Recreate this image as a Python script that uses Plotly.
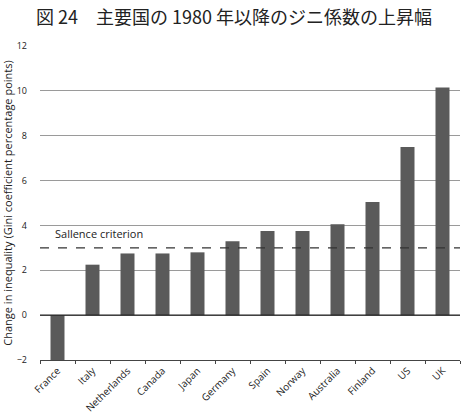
import plotly.graph_objects as go

countries = ["France", "Italy", "Netherlands", "Canada", "Japan", "Germany",
             "Spain", "Norway", "Australia", "Finland", "US", "UK"]
gini_change = [-2.0, 2.25, 2.75, 2.75, 2.8, 3.3, 3.75, 3.75, 4.05, 5.05, 7.5, 10.15]
salience = 3.0
y_ticks = [-2, 0, 2, 4, 6, 8, 10, 12]

fig = go.Figure()
fig.add_trace(go.Bar(
    x=countries, y=gini_change, width=0.4,
    marker=dict(color="#5a5a5a", line=dict(width=0)),
))

fig.add_shape(type="line", xref="paper", yref="y", x0=0, x1=1, y0=salience, y1=salience,
              line=dict(color="#333333", width=1.2, dash="dash"))
fig.add_shape(type="line", xref="paper", yref="y", x0=0, x1=1, y0=0, y1=0,
              line=dict(color="#222222", width=1.3))
fig.add_annotation(xref="paper", yref="y", x=0.03, y=salience + 0.2, text="Sallence criterion",
                   showarrow=False, xanchor="left", yanchor="bottom",
                   font=dict(family="Open Sans", size=11, color="#222"))

fig.update_layout(
    width=468, height=415,
    margin=dict(l=40, r=8, t=46, b=55),
    paper_bgcolor="white", plot_bgcolor="white",
    showlegend=False,
    title=dict(text="図 24　主要国の 1980 年以降のジニ係数の上昇幅", x=0.5, xanchor="center",
               y=0.957, yanchor="middle",
               font=dict(family="Noto Sans CJK JP", size=18, color="#222")),
    font=dict(family="Open Sans", color="#222"),
)
fig.update_xaxes(
    type="category", tickangle=-45, tickson="boundaries",
    ticks="outside", ticklen=3, tickcolor="#444",
    showline=True, linecolor="#444", linewidth=1,
    tickfont=dict(size=10, family="Open Sans"),
    showgrid=False, automargin=False,
)
fig.update_yaxes(
    range=[-2, 12], tickvals=y_ticks,
    ticktext=["−2" if v == -2 else str(v) for v in y_ticks],
    showgrid=True, gridcolor="#9a9a9a", gridwidth=1,
    zeroline=False, showline=False,
    ticklabelstandoff=12, automargin=False,
    tickfont=dict(size=9, family="Open Sans"),
    title=dict(text="Change in inequality (Gini coefficient percentage points)",
               font=dict(size=11, family="Open Sans"), standoff=4),
)

fig.write_html("out.html")
